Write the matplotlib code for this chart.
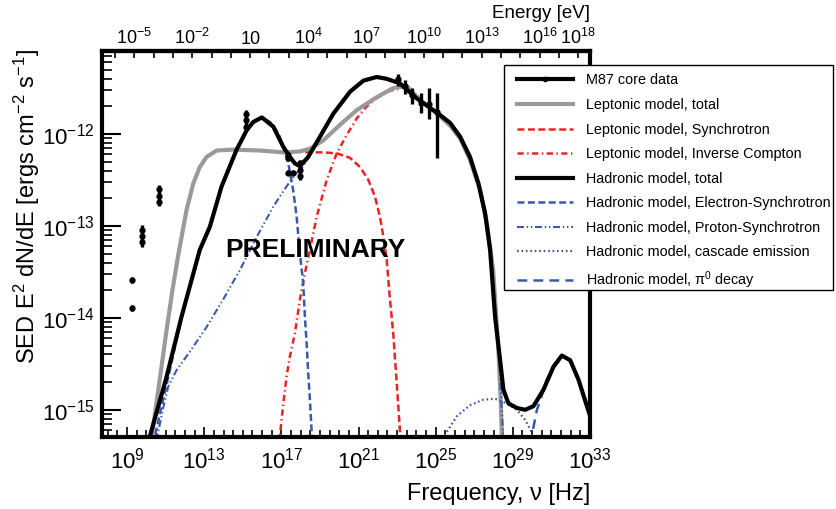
import matplotlib
matplotlib.use("Agg")
import matplotlib.pyplot as plt
from matplotlib.lines import Line2D
from matplotlib.patches import Rectangle
from matplotlib.ticker import FixedLocator, FixedFormatter, LogLocator, NullFormatter
import numpy as np

plt.rcParams['font.family'] = ['Liberation Sans', 'DejaVu Sans']
plt.rcParams['mathtext.fontset'] = 'custom'
plt.rcParams['mathtext.rm'] = 'Liberation Sans'
plt.rcParams['mathtext.it'] = 'Liberation Sans:italic'
plt.rcParams['mathtext.bf'] = 'Liberation Sans:bold'
plt.rcParams['mathtext.default'] = 'regular'
plt.rcParams['lines.scale_dashes'] = False

H_EV = 4.1357e-15  # constante de Planck [eV s]

# -------------------------------------------------------------------------- #
# DONNEES (log10 nu [Hz], log10 SED [erg cm-2 s-1])
# -------------------------------------------------------------------------- #
data_lognu = [9.28, 9.28, 9.75, 9.75, 9.75, 10.66, 10.66, 10.66,
              15.14, 15.14, 15.14, 17.36, 17.36, 17.32, 17.58,
              17.96, 17.96, 17.96,
              23.05, 23.41, 23.77, 24.24, 24.66, 25.06]
data_logsed = [-13.59, -13.89, -13.04, -13.11, -13.18, -12.60, -12.67, -12.74,
               -11.78, -11.85, -11.92, -12.23, -12.26, -12.42, -12.42,
               -12.32, -12.39, -12.46,
               -11.40, -11.48, -11.58, -11.66, -11.67, -11.76]
data_err_lo = [0.035, 0.035] + [0.045] * 9 + [0.03] * 4 + [0.04] * 3 + [0.08, 0.08, 0.09, 0.11, 0.17, 0.50]
data_err_hi = [0.035, 0.035] + [0.045] * 9 + [0.03] * 4 + [0.04] * 3 + [0.05, 0.07, 0.08, 0.11, 0.17, 0.21]

# Modele hadronique, total
had_lognu = [10.07, 10.18, 11.05, 11.82, 12.77, 13.29, 13.90, 14.68, 15.20, 15.54,
             15.99, 16.58, 17.10, 17.44, 17.70, 17.96, 18.39, 19.00, 19.69, 20.56,
             21.25, 21.94, 22.46, 23.15, 24.00, 25.14, 25.75, 26.27, 26.78, 27.22,
             27.56, 27.82, 28.08, 28.34, 28.51, 28.77, 29.21, 29.64, 30.07, 30.59,
             31.11, 31.54, 31.97, 32.40, 32.84, 33.01]
had_logsed = [-15.38, -15.29, -14.64, -13.99, -13.26, -13.01, -12.57, -12.17, -11.96, -11.87,
              -11.82, -11.92, -12.14, -12.25, -12.32, -12.35, -12.25, -12.03, -11.78, -11.54,
              -11.42, -11.38, -11.40, -11.45, -11.61, -11.78, -11.88, -12.03, -12.25, -12.54,
              -12.86, -13.26, -13.99, -14.46, -14.78, -14.93, -14.98, -15.00, -14.96, -14.78,
              -14.53, -14.41, -14.46, -14.67, -14.96, -15.07]

# Modele leptonique, total
lep_lognu = [10.13, 10.28, 10.62, 11.05, 11.35, 11.65, 12.08, 12.43, 12.77, 13.12,
             13.64, 14.50, 15.89, 17.10, 17.96, 18.49, 19.17, 20.04, 20.91, 21.94,
             22.80, 23.50, 24.19, 25.14, 25.75, 26.27, 26.78, 27.30, 27.67, 27.98,
             28.25, 28.37, 28.43, 28.45]
lep_logsed = [-15.38, -15.29, -14.78, -14.13, -13.70, -13.32, -12.83, -12.54, -12.36, -12.25,
              -12.18, -12.17, -12.18, -12.20, -12.19, -12.16, -12.07, -11.90, -11.74, -11.60,
              -11.50, -11.48, -11.63, -11.79, -11.91, -12.05, -12.28, -12.61, -12.99, -13.48,
              -14.35, -14.89, -15.29, -15.44]

# Modele leptonique, synchrotron
lsyn_lognu = [10.13, 10.28, 10.62, 11.05, 11.35, 11.65, 12.08, 12.43, 12.77, 13.12,
              13.64, 14.50, 15.89, 17.10, 17.96, 18.39, 19.17, 19.87, 20.56, 21.08,
              21.51, 21.85, 22.11, 22.29, 22.46, 22.63, 22.80, 22.98, 23.15, 23.20]
lsyn_logsed = [-15.38, -15.29, -14.78, -14.13, -13.70, -13.32, -12.83, -12.54, -12.36, -12.25,
               -12.18, -12.17, -12.18, -12.20, -12.19, -12.20, -12.20, -12.21, -12.26, -12.36,
               -12.50, -12.68, -12.90, -13.12, -13.37, -13.80, -14.17, -14.71, -15.24, -15.44]

# Modele leptonique, Compton inverse
lic_lognu = [16.90, 16.92, 17.10, 17.27, 17.44, 17.70, 17.96, 18.22, 18.48, 18.83,
             19.35, 19.87, 20.39, 20.91, 21.42, 21.94, 22.63, 23.50, 24.19, 25.14,
             25.75, 26.27, 26.78, 27.30, 27.67, 27.98, 28.25, 28.37, 28.43, 28.45]
lic_logsed = [-15.38, -15.29, -14.93, -14.64, -14.42, -14.17, -13.80, -13.51, -13.26, -12.90,
              -12.50, -12.21, -12.01, -11.83, -11.70, -11.61, -11.53, -11.49, -11.64, -11.80,
              -11.92, -12.06, -12.29, -12.62, -13.00, -13.49, -14.36, -14.90, -15.30, -15.45]

# Modele hadronique, synchrotron des electrons
esyn_lognu = [10.39, 10.44, 10.79, 11.13, 11.82, 12.77, 13.29, 13.90, 14.68, 15.20,
              15.54, 15.99, 16.41, 16.84, 17.10, 17.36, 17.61, 17.79, 17.96, 18.13,
              18.22, 18.31, 18.39, 18.48, 18.57, 18.60]
esyn_logsed = [-15.38, -15.29, -14.96, -14.65, -14.00, -13.27, -13.02, -12.58, -12.18, -11.96,
               -11.87, -11.82, -11.87, -11.99, -12.14, -12.32, -12.61, -12.90, -13.30, -13.62,
               -13.99, -14.28, -14.60, -14.89, -15.24, -15.38]

# Modele hadronique, synchrotron des protons
psyn_lognu = [10.52, 10.57, 10.85, 11.13, 11.56, 12.25, 13.12, 13.98, 14.85, 15.72,
              16.58, 17.27, 17.79, 17.96, 18.22, 18.39, 19.00, 19.69, 20.56, 21.25,
              21.94, 22.46, 23.15, 24.00, 25.14, 25.75, 26.27, 26.78, 27.22, 27.56,
              27.82, 28.08, 28.25, 28.37, 28.45, 28.50, 28.51]
psyn_logsed = [-15.38, -15.29, -15.00, -14.75, -14.57, -14.37, -14.10, -13.80, -13.48, -13.12,
               -12.79, -12.57, -12.42, -12.40, -12.32, -12.26, -12.04, -11.78, -11.54, -11.42,
               -11.38, -11.40, -11.45, -11.61, -11.78, -11.88, -12.03, -12.25, -12.54, -12.86,
               -13.26, -13.99, -14.29, -14.78, -15.09, -15.29, -15.44]

# Modele hadronique, emission en cascade
casc_lognu = [25.43, 25.49, 26.09, 26.78, 27.47, 28.08, 28.69, 29.21, 29.64, 29.99, 30.05]
casc_logsed = [-15.33, -15.27, -15.07, -14.95, -14.89, -14.88, -14.93, -15.00, -15.11, -15.25, -15.38]

# Modele hadronique, desintegration pi0
pi0_lognu = [29.95, 29.99, 30.25, 30.51, 30.76, 31.11, 31.54, 31.97, 32.40, 32.84, 33.01]
pi0_logsed = [-15.38, -15.27, -15.00, -14.84, -14.67, -14.54, -14.42, -14.46, -14.68, -14.97, -15.08]

# Etiquettes des axes
x_major_exp = [9, 13, 17, 21, 25, 29, 33]
y_major_exp = [-15, -14, -13, -12]
e_major = [1e-5, 1e-2, 1e1, 1e4, 1e7, 1e10, 1e13, 1e16, 1e18]
e_labels = ['$10^{-5}$', '$10^{-2}$', '10', '$10^{4}$', '$10^{7}$',
            '$10^{10}$', '$10^{13}$', '$10^{16}$', '$10^{18}$']

ROUGE = '#ee2222'
BLEU = '#3a58ad'
GRIS = '#9a9a9a'


def p10(a):
    return 10.0 ** np.asarray(a)


def nu2e(nu):
    return nu * H_EV


def e2nu(e):
    return e / H_EV


# -------------------------------------------------------------------------- #
# FIGURE
# -------------------------------------------------------------------------- #
fig = plt.figure(figsize=(8.36, 5.09), dpi=100)
ax = fig.add_axes([102 / 836, 1 - 436.7 / 509, 488 / 836, 386 / 509])

st_syn = dict(color=ROUGE, lw=1.8, dashes=(5, 2.5))
st_ic = dict(color=ROUGE, lw=1.8, dashes=(4.5, 2.5, 1, 2.5))
st_lep = dict(color=GRIS, lw=3)
st_had = dict(color='k', lw=3)
st_esyn = dict(color=BLEU, lw=1.8, dashes=(5, 2.5))
st_psyn = dict(color=BLEU, lw=1.5, dashes=(5, 2, 1, 2, 1, 2))
st_casc = dict(color=BLEU, lw=1.6, dashes=(1.2, 2.0))
st_pi0 = dict(color=BLEU, lw=1.8, dashes=(7, 4.5))

ax.plot(p10(lsyn_lognu), p10(lsyn_logsed), **st_syn)
ax.plot(p10(lic_lognu), p10(lic_logsed), **st_ic)
ax.plot(p10(lep_lognu), p10(lep_logsed), **st_lep)
ax.plot(p10(esyn_lognu), p10(esyn_logsed), **st_esyn)
ax.plot(p10(psyn_lognu), p10(psyn_logsed), **st_psyn)
ax.plot(p10(casc_lognu), p10(casc_logsed), **st_casc)
ax.plot(p10(pi0_lognu), p10(pi0_logsed), **st_pi0)
ax.plot(p10(had_lognu), p10(had_logsed), **st_had)

# Donnees M87 avec barres d'erreur
y = p10(data_logsed)
y_lo = y - p10(np.array(data_logsed) - np.array(data_err_lo))
y_hi = p10(np.array(data_logsed) + np.array(data_err_hi)) - y
ax.errorbar(p10(data_lognu), y, yerr=[y_lo, y_hi], fmt='o', color='k',
            ms=3.5, elinewidth=2.4, capsize=0, zorder=5)

ax.set_xscale('log')
ax.set_yscale('log')
ax.set_xlim(10 ** 7.7, 1e33)
ax.set_ylim(5.1e-16, 8.05e-12)

ax.xaxis.set_major_locator(FixedLocator([10.0 ** k for k in x_major_exp]))
ax.xaxis.set_major_formatter(FixedFormatter(['$10^{%d}$' % k for k in x_major_exp]))
ax.xaxis.set_minor_locator(FixedLocator(10.0 ** np.arange(7.5, 33.01, 0.5)))
ax.xaxis.set_minor_formatter(NullFormatter())
ax.yaxis.set_major_locator(FixedLocator([10.0 ** k for k in y_major_exp]))
ax.yaxis.set_major_formatter(FixedFormatter(['$10^{%d}$' % k for k in y_major_exp]))
ax.yaxis.set_minor_locator(LogLocator(base=10, subs=np.arange(2, 10)))
ax.yaxis.set_minor_formatter(NullFormatter())

ax.tick_params(axis='y', which='major', direction='in', length=14, width=1.5, labelsize=16, pad=5)
ax.tick_params(axis='y', which='minor', direction='in', length=7.5, width=1.2)
ax.tick_params(axis='x', which='major', direction='in', length=7, width=1.2, labelsize=16, pad=8)
ax.tick_params(axis='x', which='minor', direction='in', length=5, width=1.2)
for s in ax.spines.values():
    s.set_linewidth(3)

# Axe du haut en energie
sec = ax.secondary_xaxis('top', functions=(nu2e, e2nu))
sec.xaxis.set_major_locator(FixedLocator(e_major))
sec.xaxis.set_major_formatter(FixedFormatter(e_labels))
sec.xaxis.set_minor_locator(FixedLocator(10.0 ** np.arange(-7, 19)))
sec.xaxis.set_minor_formatter(NullFormatter())
sec.tick_params(axis='x', which='both', direction='in', length=5, width=1.2, labelsize=13, pad=2)
sec.spines['top'].set_linewidth(3)

fig.text(590 / 836, 1 - 494 / 509, 'Frequency, \u03bd [Hz]', ha='right', va='center', fontsize=17)
fig.text(27 / 836, 1 - 49 / 509, 'SED E$^{2}$ dN/dE [ergs cm$^{-2}$ s$^{-1}$]',
         rotation=90, ha='center', va='top', fontsize=17)
fig.text(590 / 836, 1 - 13 / 509, 'Energy [eV]', ha='right', va='center', fontsize=13.5)
ax.text(0.4375, 0.4837, 'PRELIMINARY', transform=ax.transAxes, ha='center', va='center',
        fontsize=19, fontweight='bold')

# Legende
handles = [
    Line2D([0], [0], color='k', lw=3, marker='o', ms=3),
    Line2D([0], [0], **st_lep),
    Line2D([0], [0], **st_syn),
    Line2D([0], [0], **st_ic),
    Line2D([0], [0], **st_had),
    Line2D([0], [0], **st_esyn),
    Line2D([0], [0], **st_psyn),
    Line2D([0], [0], **st_casc),
    Line2D([0], [0], **st_pi0),
]
labels = ['M87 core data', 'Leptonic model, total', 'Leptonic model, Synchrotron',
          'Leptonic model, Inverse Compton', 'Hadronic model, total',
          'Hadronic model, Electron-Synchrotron', 'Hadronic model, Proton-Synchrotron',
          'Hadronic model, cascade emission', 'Hadronic model, $\\pi^{0}$ decay']
fig.patches.append(Rectangle((504 / 836, 1 - 290 / 509), 329 / 836, 225 / 509,
                             transform=fig.transFigure, fill=True, facecolor='white',
                             edgecolor='k', lw=1.0, zorder=10))
leg = fig.legend(handles, labels, loc='upper left', bbox_to_anchor=(517 / 836, 1 - 73.5 / 509),
                 frameon=False, fontsize=10.4, handlelength=3.85, handletextpad=0.9,
                 labelspacing=0.73, borderpad=0, borderaxespad=0, numpoints=1)
leg.set_zorder(11)

fig.savefig('out.png', dpi=100)
